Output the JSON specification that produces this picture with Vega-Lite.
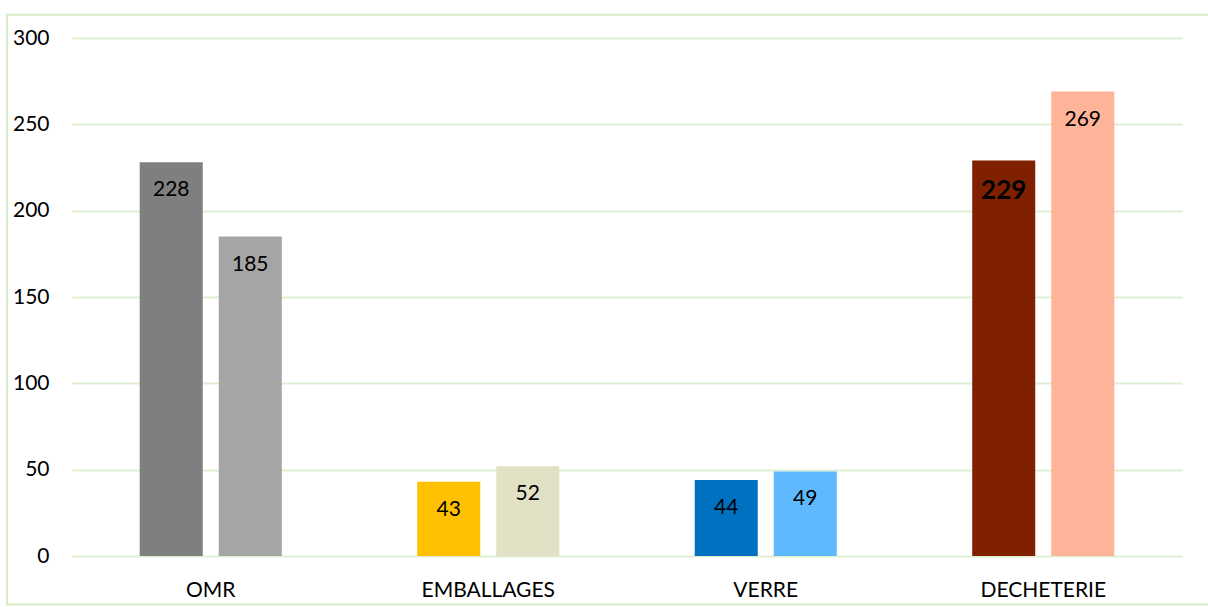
{
  "$schema": "https://vega.github.io/schema/vega-lite/v6.json",
  "width": 1110,
  "height": 518,
  "autosize": {"type": "none"},
  "padding": {"left": 72, "top": 38, "right": 26, "bottom": 51},
  "background": "white",
  "config": {
    "view": {"stroke": null},
    "font": "Lato",
    "axis": {"labelFont": "Lato", "labelFontSize": 21, "labelColor": "#000000"}
  },
  "data": {
    "values": [
      {"categorie": "OMR", "serie": "1", "valeur": 228},
      {"categorie": "OMR", "serie": "2", "valeur": 185},
      {"categorie": "EMBALLAGES", "serie": "1", "valeur": 43},
      {"categorie": "EMBALLAGES", "serie": "2", "valeur": 52},
      {"categorie": "VERRE", "serie": "1", "valeur": 44},
      {"categorie": "VERRE", "serie": "2", "valeur": 49},
      {"categorie": "DECHETERIE", "serie": "1", "valeur": 229},
      {"categorie": "DECHETERIE", "serie": "2", "valeur": 269}
    ]
  },
  "transform": [{"calculate": "datum.categorie + '|' + datum.serie", "as": "cle"}],
  "layer": [
    {
      "mark": {"type": "bar"},
      "encoding": {
        "x": {
          "field": "categorie", "type": "nominal",
          "sort": ["OMR", "EMBALLAGES", "VERRE", "DECHETERIE"],
          "scale": {"paddingInner": 0.488, "paddingOuter": 0.244},
          "axis": {"title": null, "labelAngle": 0, "ticks": false, "domain": false, "labelPadding": 23, "grid": false}
        },
        "xOffset": {"field": "serie", "type": "nominal", "scale": {"paddingInner": 0.2025, "paddingOuter": 0}},
        "y": {
          "field": "valeur", "type": "quantitative",
          "scale": {"domain": [0, 300], "nice": false},
          "axis": {"title": null, "values": [0, 50, 100, 150, 200, 250, 300], "ticks": false, "domain": false, "labelPadding": 23, "gridColor": "#DFF0D2", "gridWidth": 2}
        },
        "color": {
          "field": "cle", "type": "nominal", "legend": null,
          "scale": {
            "domain": ["OMR|1", "OMR|2", "EMBALLAGES|1", "EMBALLAGES|2", "VERRE|1", "VERRE|2", "DECHETERIE|1", "DECHETERIE|2"],
            "range": ["#7F7F7F", "#A5A5A5", "#FFC000", "#E2E1C5", "#0070C0", "#5FB9FF", "#7F2000", "#FFB399"]
          }
        }
      }
    },
    {
      "transform": [{"filter": "datum.valeur != 229"}],
      "mark": {"type": "text", "baseline": "middle", "dy": 28, "fontSize": 21, "font": "Lato", "color": "#000000"},
      "encoding": {
        "x": {"field": "categorie", "type": "nominal", "sort": ["OMR", "EMBALLAGES", "VERRE", "DECHETERIE"]},
        "xOffset": {"field": "serie", "type": "nominal"},
        "y": {"field": "valeur", "type": "quantitative", "scale": {"domain": [0, 300], "nice": false}},
        "text": {"field": "valeur", "type": "quantitative"}
      }
    },
    {
      "transform": [{"filter": "datum.valeur == 229"}],
      "mark": {"type": "text", "baseline": "middle", "dy": 30, "fontSize": 26, "fontWeight": "bold", "font": "Lato", "color": "#000000"},
      "encoding": {
        "x": {"field": "categorie", "type": "nominal", "sort": ["OMR", "EMBALLAGES", "VERRE", "DECHETERIE"]},
        "xOffset": {"field": "serie", "type": "nominal"},
        "y": {"field": "valeur", "type": "quantitative", "scale": {"domain": [0, 300], "nice": false}},
        "text": {"field": "valeur", "type": "quantitative"}
      }
    },
    {
      "data": {"values": [{}]},
      "mark": {"type": "rect", "fill": null, "fillOpacity": 0, "stroke": "#D6EDC6", "strokeWidth": 2, "clip": false},
      "encoding": {
        "x": {"datum": "OMR", "type": "nominal", "bandPosition": -0.934},
        "x2": {"datum": "DECHETERIE", "bandPosition": 1.69},
        "y": {"datum": 313.5, "type": "quantitative", "scale": {"domain": [0, 300], "nice": false}},
        "y2": {"datum": -28.1}
      }
    }
  ]
}
